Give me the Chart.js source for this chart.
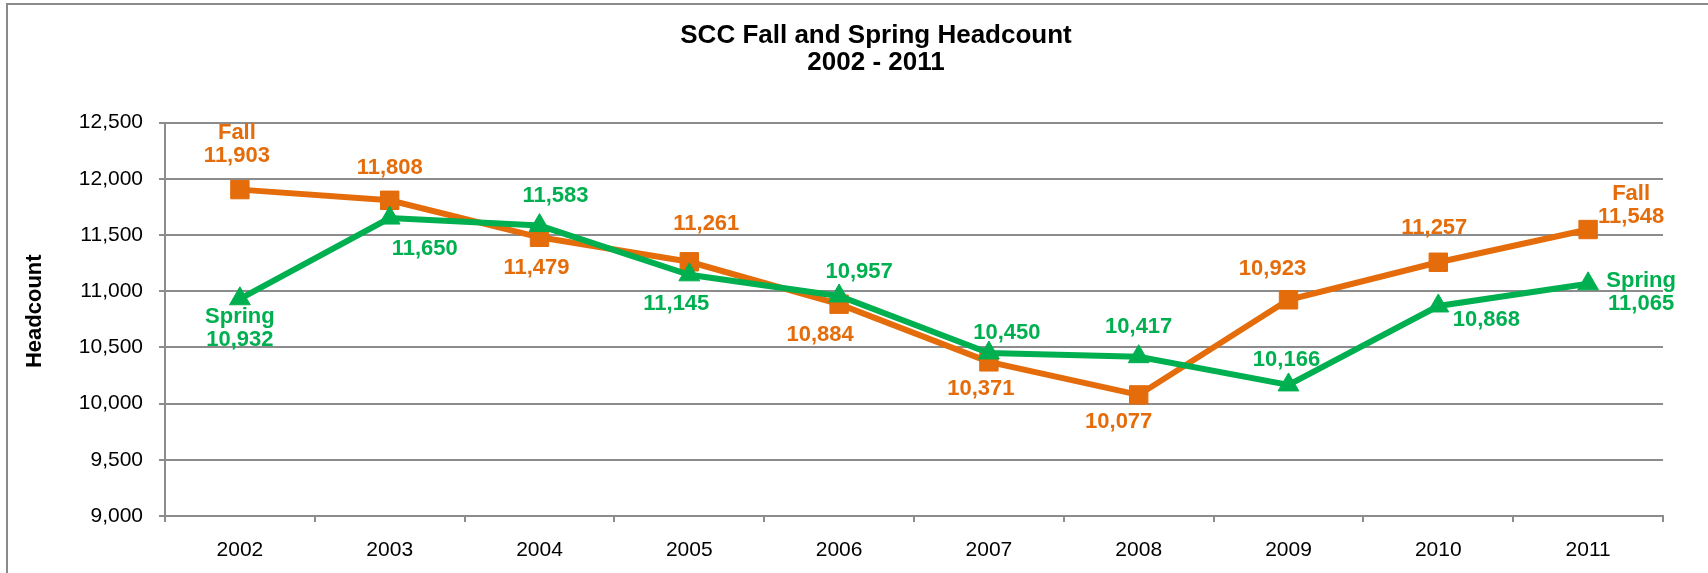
<!DOCTYPE html>
<html>
<head>
<meta charset="utf-8">
<script src="https://cdn.jsdelivr.net/npm/chart.js@4.4.1/dist/chart.umd.min.js"></script>
<style>
  html, body { margin: 0; padding: 0; background: #fff; overflow: hidden; }
  #frame { position: absolute; left: 6px; top: 3px; border-left: 2px solid #8a8a8a; border-top: 2px solid #8a8a8a; }
  canvas { display: block; }
</style>
</head>
<body>
<div id="frame"><canvas id="chart" width="1736" height="568"></canvas></div>
<script>
const years = ["2002", "2003", "2004", "2005", "2006", "2007", "2008", "2009", "2010", "2011"];
const fallHeadcount = [11903, 11808, 11479, 11261, 10884, 10371, 10077, 10923, 11257, 11548];
const springHeadcount = [10932, 11650, 11583, 11145, 10957, 10450, 10417, 10166, 10868, 11065];
const yTicks = [9000, 9500, 10000, 10500, 11000, 11500, 12000, 12500];

// label placement next to each point, [dx, dy] in px
const fallLabelOffsets = [[-3, -45], [0, -32], [-3, 31], [17, -38], [-19, 31], [-8, 27], [-20, 27], [-16, -31], [-4, -34], [43, -24]];
const springLabelOffsets = [[0, 30], [35, 31], [16, -30], [-13, 29], [20, -24], [18, -20], [0, -30], [-2, -25], [48, 14], [53, 9]];

const ORANGE = "#E46C0A";
const GREEN = "#00B050";
const GRID = "#8c8c8c";
const FONT = "'Liberation Sans', Arial, sans-serif";

const valueLabels = {
    id: "valueLabels",
    afterDatasetsDraw(chart) {
        const ctx = chart.ctx;
        const offsets = [fallLabelOffsets, springLabelOffsets];
        ctx.save();
        ctx.font = "bold 22px " + FONT;
        ctx.textAlign = "center";
        ctx.textBaseline = "middle";
        chart.data.datasets.forEach((ds, di) => {
            const meta = chart.getDatasetMeta(di);
            ctx.fillStyle = ds.borderColor;
            meta.data.forEach((pt, i) => {
                const [dx, dy] = offsets[di][i];
                const lines = [ds.data[i].toLocaleString("en-US")];
                if (i === 0 || i === ds.data.length - 1) lines.unshift(ds.label);
                const top = pt.y + dy - (lines.length - 1) * 23 / 2;
                lines.forEach((t, k) => ctx.fillText(t, pt.x + dx, top + k * 23));
            });
        });
        // y axis title, sits a little above the plot's middle
        const area = chart.chartArea;
        ctx.fillStyle = "#000";
        ctx.font = "bold 22px " + FONT;
        ctx.translate(27, (area.top + area.bottom) / 2 - 8);
        ctx.rotate(-Math.PI / 2);
        ctx.fillText("Headcount", 0, 0);
        ctx.restore();
    }
};

new Chart(document.getElementById("chart").getContext("2d"), {
    type: "line",
    data: {
        labels: years,
        datasets: [
            {
                label: "Fall",
                data: fallHeadcount,
                borderColor: ORANGE,
                backgroundColor: ORANGE,
                borderWidth: 6,
                pointStyle: "rect",
                pointRadius: 13,
                pointBorderWidth: 1,
                order: 2,
            },
            {
                label: "Spring",
                data: springHeadcount,
                borderColor: GREEN,
                backgroundColor: GREEN,
                borderWidth: 6,
                pointStyle: "triangle",
                pointRadius: 12,
                pointBorderWidth: 1,
                order: 1,
            },
        ],
    },
    options: {
        responsive: false,
        animation: false,
        devicePixelRatio: 1,
        layout: { padding: 0 },
        plugins: {
            legend: { display: false },
            tooltip: { enabled: false },
            title: {
                display: true,
                text: ["SCC Fall and Spring Headcount", "2002 - 2011"],
                color: "#000",
                font: { family: FONT, size: 26, weight: "bold", lineHeight: 27 / 26 },
                padding: { top: 17.5, bottom: 46 },
            },
        },
        scales: {
            x: {
                offset: true,
                grid: { offset: true, drawOnChartArea: false, tickLength: 6, color: GRID, lineWidth: 2 },
                border: { color: GRID, width: 2 },
                ticks: { color: "#000", font: { family: FONT, size: 21 }, padding: 16, maxRotation: 0 },
                afterFit(scale) { scale.height = 57; },
            },
            y: {
                min: 9000,
                max: 12500,
                afterBuildTicks(scale) { scale.ticks = yTicks.map(v => ({ value: v })); },
                grid: { color: GRID, lineWidth: 2, tickLength: 6 },
                border: { color: GRID, width: 2 },
                ticks: {
                    color: "#000",
                    font: { family: FONT, size: 21 },
                    padding: 16,
                    callback: v => v.toLocaleString("en-US"),
                },
                afterFit(scale) { scale.width = 157; },
            },
            yRight: {
                position: "right",
                display: true,
                grid: { display: false },
                border: { display: false },
                ticks: { display: false },
                afterFit(scale) { scale.width = 81; },
            },
        },
    },
    plugins: [valueLabels],
});
</script>
</body>
</html>
